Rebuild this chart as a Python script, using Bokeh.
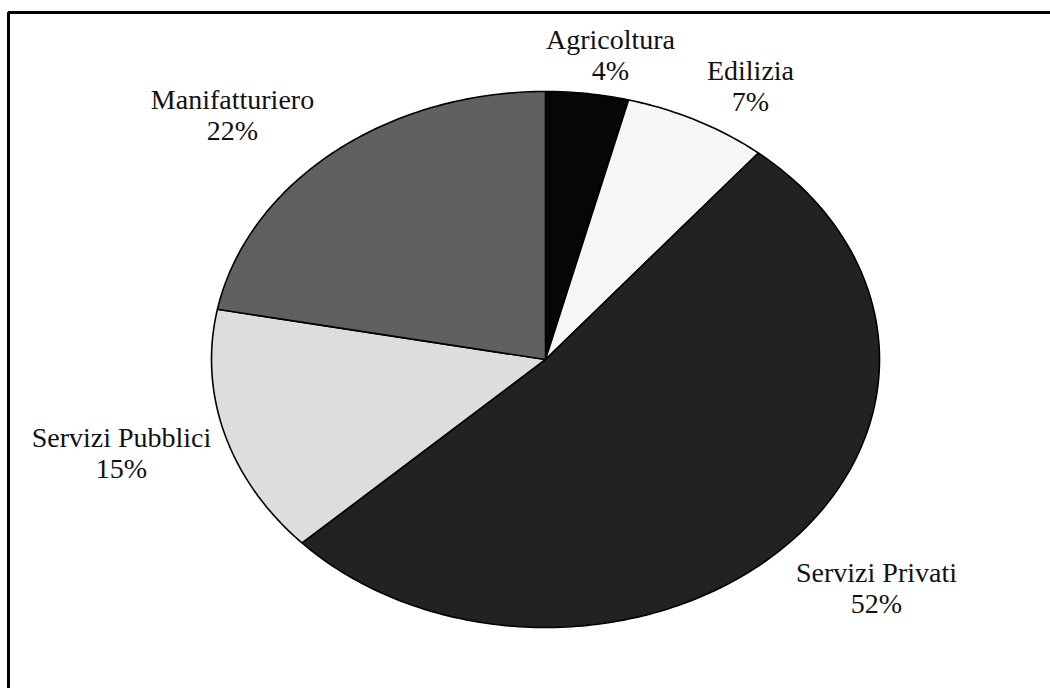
import math

from bokeh.core.properties import value
from bokeh.embed import file_html
from bokeh.models import ColumnDataSource, Range1d
from bokeh.plotting import figure
from bokeh.resources import INLINE

# Employment by sector (%)
sectors = ["Agricoltura", "Edilizia", "Servizi Privati", "Servizi Pubblici", "Manifatturiero"]
shares = [4, 7, 52, 15, 22]
colors = ["#060606", "#f6f6f6", "#222222", "#dddddd", "#606060"]

# label anchors (centre of the name line), in page pixels
label_pos = [(610, 39), (750, 70), (876, 572), (121, 437), (232, 99)]

W, H = 1050, 688
CX, CY, RX, RY = 545, 359, 334, 268  # elliptical pie: centre and radii in pixels

p = figure(width=W, height=H, output_backend="svg", toolbar_location=None,
           x_range=Range1d(0, W), y_range=Range1d(H, 0), min_border=0)
p.axis.visible = False
p.grid.visible = False
p.outline_line_color = None
p.background_fill_color = "white"
p.border_fill_color = "white"

# outer frame
p.quad(left=[8], right=[W + 20], top=[12], bottom=[H + 20],
       fill_color=None, line_color="black", line_width=3)

# slices, clockwise from 12 o'clock
total = float(sum(shares))
xs, ys = [], []
start = 0.0
for s in shares:
    a0 = start / total * 2 * math.pi
    a1 = (start + s) / total * 2 * math.pi
    n = max(4, int(s * 4))
    px, py = [CX], [CY]
    for k in range(n + 1):
        t = a0 + (a1 - a0) * k / n
        px.append(CX + RX * math.sin(t))
        py.append(CY - RY * math.cos(t))
    xs.append(px)
    ys.append(py)
    start += s

src = ColumnDataSource(dict(xs=xs, ys=ys, color=colors, name=sectors))
p.patches("xs", "ys", source=src, fill_color="color", line_color="black", line_width=1.6)

# labels: name and percentage
lx = [q[0] for q in label_pos]
ly = [q[1] for q in label_pos]
lab = ColumnDataSource(dict(x=lx, y=ly, y2=[v + 31 for v in ly], name=sectors,
                            pct=[f"{v}%" for v in shares]))
common = dict(text_font=value("Liberation Serif"), text_font_size="28px",
              text_color="#111111", text_align="center", text_baseline="middle")
p.text("x", "y", text="name", source=lab, **common)
p.text("x", "y2", text="pct", source=lab, **common)

open("out.html", "w").write(file_html(p, INLINE))
